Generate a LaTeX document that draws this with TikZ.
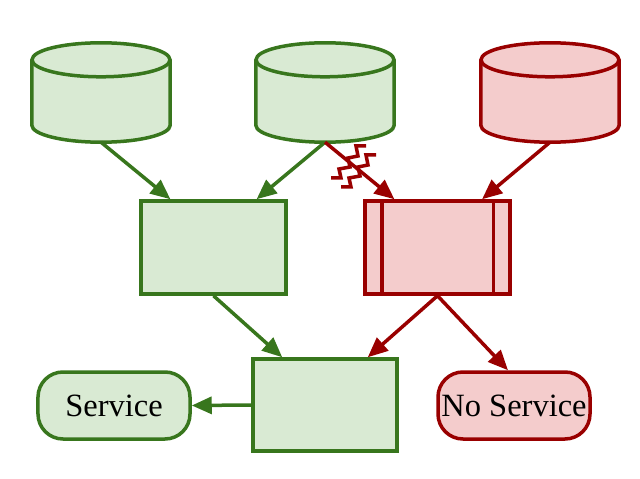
\documentclass[tikz,border=0pt]{standalone}
\usepackage{fontspec}
\setmainfont{Liberation Serif}
\usepackage{tikz}
\usetikzlibrary{arrows.meta,calc,positioning}
\definecolor{okline}{HTML}{38761D}
\definecolor{okfill}{HTML}{D9EAD3}
\definecolor{badline}{HTML}{990000}
\definecolor{badfill}{HTML}{F4CCCC}
\tikzset{
  ok/.style={draw=okline,fill=okfill,line width=3.5bp},
  bad/.style={draw=badline,fill=badfill,line width=3.5bp},
  dbbox/.style={rectangle,minimum width=138bp,minimum height=99bp,inner sep=0pt},
  box/.style={rectangle,minimum width=145bp,minimum height=93bp,inner sep=0pt},
  term/.style={rectangle,rounded corners=25bp,minimum width=152bp,minimum height=67bp,inner sep=0pt,font=\fontsize{32.5bp}{36bp}\selectfont},
  okarrow/.style={draw=okline,line width=3.5bp,-{Triangle[length=20bp,width=17bp]}},
  badarrow/.style={draw=badline,line width=3.5bp,-{Triangle[length=20bp,width=17bp]}},
}
\begin{document}
\begin{tikzpicture}[x=1bp,y=-1bp]
\useasboundingbox (0,0) rectangle (640,479);
% sources
\node[dbbox] (db1) at (101,92.5) {};
\node[dbbox] (db2) at (325,92.5) {};
\node[dbbox] (db3) at (550,92.5) {};
\foreach \n/\s in {db1/ok,db2/ok,db3/bad}{
  \path[\s] ($(\n.north west)+(0,17)$) -- ($(\n.south west)+(0,-17)$)
    .. controls +(0,9.4) and ($(\n.south)+(-38.1,0)$) .. (\n.south)
    .. controls +(38.1,0) and ($(\n.south east)+(0,-7.6)$) .. ($(\n.south east)+(0,-17)$)
    -- ($(\n.north east)+(0,17)$);
  \path[\s] ($(\n.north)+(0,17)$) ellipse[x radius=69bp,y radius=17bp];
}
% middle
\node[box,ok] (proc1) at (213.5,247.5) {};
\node[box,bad] (proc2) at (437.5,247.5) {};
\draw[badline,line width=3.5bp] ($(proc2.north west)+(18.5,0)$) -- ($(proc2.south west)+(18.5,0)$);
\draw[badline,line width=3.5bp] ($(proc2.north east)+(-18.5,0)$) -- ($(proc2.south east)+(-18.5,0)$);
% bottom
\node[box,ok,minimum width=144bp,minimum height=92bp] (merge) at (325,405) {};
\node[term,ok] (srv) at (114,405.5) {Service};
\node[term,bad] (nosrv) at (514,405.5) {No Service};
% connectors
\draw[okarrow] (db1.south) -- ($(proc1.north west)!0.21!(proc1.north east)$);
\draw[okarrow] (db2.south) -- ($(proc1.north west)!0.79!(proc1.north east)$);
\draw[badarrow] (db2.south) -- ($(proc2.north west)!0.21!(proc2.north east)$);
\draw[badarrow] (db3.south) -- ($(proc2.north west)!0.8!(proc2.north east)$);
\draw[okarrow] (proc1.south) -- ($(merge.north west)!0.21!(merge.north east)$);
\draw[badarrow] (proc2.south) -- ($(merge.north west)!0.79!(merge.north east)$);
\draw[badarrow] (proc2.south) -- ($(nosrv.north)+(-6,0)$);
\draw[okarrow] (merge.west) -- (srv.east);
% broken link mark
\foreach \dx/\dy in {0/0,10/9}
  \draw[badline,line width=3.5bp,shift={(\dx,\dy)}] (331,178) -- (341,178) -- (339,169) -- (350,167) -- (348,158) -- (358,156) -- (356,146) -- (366,146);
\end{tikzpicture}
\end{document}
